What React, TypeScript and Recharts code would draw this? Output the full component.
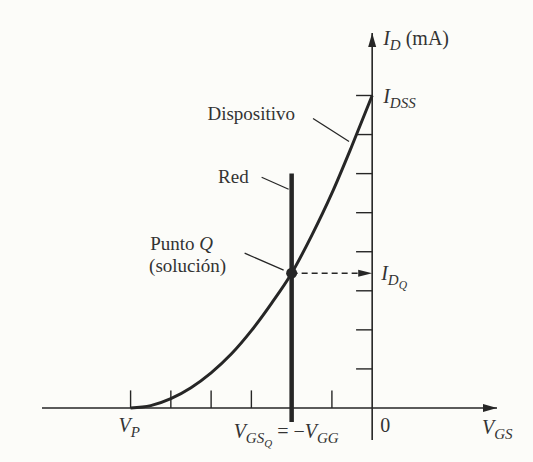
import {
  ComposedChart,
  Line,
  XAxis,
  YAxis,
  ReferenceLine,
  ReferenceDot,
} from "recharts";

// transfer curve of the JFET (V_GS in volts, I_D in mA)
const vgs = [-6, -5.5, -5, -4.5, -4, -3.5, -3, -2.5, -2, -1.5, -1, -0.5, 0];
const idMa = [0, 0.06, 0.24, 0.52, 0.9, 1.38, 1.98, 2.68, 3.45, 4.42, 5.5, 6.72, 8];

// gate bias line (V_GS = -V_GG) and operating point
const biasV = -2;
const biasSpan = [-0.36, 6];
const qPoint = { v: -2, i: 3.45 };

const xTicks = [-6, -5, -4, -3, -2, -1];
const yTicks = [1, 2, 3, 4, 5, 6, 7, 8];

const xDomain = [-8.2, 3.1];
const yDomain = [-0.82, 9.6];

const data = vgs.map((v, k) => ({ vgs: v, id: idMa[k] }));

const INK = "#262626";
const TXT = "#333333";
const FONT = "'Liberation Serif', 'DejaVu Serif', serif";

const tickLenX = 0.45;
const tickLenY = 0.4;

type Pt = { cx?: number; cy?: number };

// italic symbol with a subscript, e.g. V_GS
function SymSub({ x, y, main, sub, subsub, size = 20 }: any) {
  return (
    <text x={x} y={y} fill={TXT} fontFamily={FONT} fontSize={size} fontStyle="italic">
      <tspan>{main}</tspan>
      <tspan fontSize={size * 0.75} dy={5}>{sub}</tspan>
      {subsub ? (
        <tspan fontSize={size * 0.58} dy={4}>{subsub}</tspan>
      ) : null}
    </text>
  );
}

export default function App() {
  return (
    <div style={{ position: "fixed", left: 0, top: 0, width: 533, height: 462, background: "#fcfcf9" }}>
      <ComposedChart
        width={533}
        height={462}
        data={data}
        margin={{ top: 33, right: 36, bottom: 22, left: 42 }}
      >
        <XAxis dataKey="vgs" type="number" domain={xDomain} allowDataOverflow hide />
        <YAxis type="number" domain={yDomain} allowDataOverflow hide />

        {/* axes */}
        <ReferenceLine y={0} stroke={INK} strokeWidth={1.6} />
        <ReferenceLine x={0} stroke={INK} strokeWidth={1.6} />
        <ReferenceDot
          x={xDomain[1]}
          y={0}
          ifOverflow="visible"
          shape={({ cx = 0, cy = 0 }: Pt) => (
            <path d={`M${cx},${cy} L${cx - 14},${cy - 4} L${cx - 14},${cy + 4} Z`} fill={INK} />
          )}
        />
        <ReferenceDot
          x={0}
          y={yDomain[1]}
          ifOverflow="visible"
          shape={({ cx = 0, cy = 0 }: Pt) => (
            <path d={`M${cx},${cy} L${cx - 4},${cy + 14} L${cx + 4},${cy + 14} Z`} fill={INK} />
          )}
        />

        {/* tick marks */}
        {xTicks.map((t) => (
          <ReferenceLine
            key={`xt${t}`}
            segment={[{ x: t, y: 0 }, { x: t, y: tickLenX }]}
            stroke={INK}
            strokeWidth={1.4}
          />
        ))}
        {yTicks.map((t) => (
          <ReferenceLine
            key={`yt${t}`}
            segment={[{ x: -tickLenY, y: t }, { x: 0, y: t }]}
            stroke={INK}
            strokeWidth={1.4}
          />
        ))}

        {/* device curve */}
        <Line
          dataKey="id"
          type="monotone"
          stroke={INK}
          strokeWidth={3}
          dot={false}
          isAnimationActive={false}
        />

        {/* network line */}
        <ReferenceLine
          segment={[{ x: biasV, y: biasSpan[0] }, { x: biasV, y: biasSpan[1] }]}
          stroke={INK}
          strokeWidth={4.5}
        />

        {/* I_DQ projection */}
        <ReferenceLine
          segment={[{ x: qPoint.v, y: qPoint.i }, { x: -0.3, y: qPoint.i }]}
          stroke={INK}
          strokeWidth={1.4}
          strokeDasharray="6 4"
        />
        <ReferenceDot
          x={0}
          y={qPoint.i}
          shape={({ cx = 0, cy = 0 }: Pt) => (
            <path d={`M${cx},${cy} L${cx - 14},${cy - 3.5} L${cx - 14},${cy + 3.5} Z`} fill={INK} />
          )}
        />
        <ReferenceDot x={qPoint.v} y={qPoint.i} r={5.5} fill={INK} stroke="none" />

        {/* annotations */}
        <ReferenceDot
          x={-0.5}
          y={6.72}
          shape={({ cx = 0, cy = 0 }: Pt) => (
            <g>
              <line x1={cx - 39} y1={cy - 27} x2={cx - 3} y2={cy - 4} stroke={INK} strokeWidth={1.3} />
              <text x={cx - 57} y={cy - 25} textAnchor="end" fill={TXT} fontFamily={FONT} fontSize={19}>
                Dispositivo
              </text>
            </g>
          )}
        />
        <ReferenceDot
          x={biasV}
          y={5.6}
          shape={({ cx = 0, cy = 0 }: Pt) => (
            <g>
              <line x1={cx - 30} y1={cy - 12} x2={cx - 3} y2={cy} stroke={INK} strokeWidth={1.3} />
              <text x={cx - 43} y={cy - 6} textAnchor="end" fill={TXT} fontFamily={FONT} fontSize={19}>
                Red
              </text>
            </g>
          )}
        />
        <ReferenceDot
          x={qPoint.v}
          y={qPoint.i}
          shape={({ cx = 0, cy = 0 }: Pt) => (
            <g fill={TXT} fontFamily={FONT} fontSize={19}>
              <line x1={cx - 47} y1={cy - 20} x2={cx - 8} y2={cy - 3} stroke={INK} strokeWidth={1.3} />
              <text x={cx - 110} y={cy - 23} textAnchor="middle">
                Punto <tspan fontStyle="italic">Q</tspan>
              </text>
              <text x={cx - 104} y={cy - 1} textAnchor="middle">
                (solución)
              </text>
            </g>
          )}
        />

        {/* axis labels */}
        <ReferenceDot
          x={0}
          y={yDomain[1]}
          ifOverflow="visible"
          shape={({ cx = 0, cy = 0 }: Pt) => (
            <text x={cx + 11} y={cy + 12} fill={TXT} fontFamily={FONT} fontSize={20}>
              <tspan fontStyle="italic">I</tspan>
              <tspan fontStyle="italic" fontSize={15} dy={5}>D</tspan>
              <tspan dy={-5}> (mA)</tspan>
            </text>
          )}
        />
        <ReferenceDot
          x={0}
          y={8}
          shape={({ cx = 0, cy = 0 }: Pt) => <SymSub x={cx + 11} y={cy + 8} main="I" sub="DSS" />}
        />
        <ReferenceDot
          x={0}
          y={qPoint.i}
          shape={({ cx = 0, cy = 0 }: Pt) => <SymSub x={cx + 9} y={cy + 7} main="I" sub="D" subsub="Q" />}
        />
        <ReferenceDot
          x={vgs[0]}
          y={0}
          shape={({ cx = 0, cy = 0 }: Pt) => <SymSub x={cx - 12} y={cy + 24} main="V" sub="P" />}
        />
        <ReferenceDot
          x={biasV}
          y={0}
          shape={({ cx = 0, cy = 0 }: Pt) => (
            <text x={cx - 58} y={cy + 30} fill={TXT} fontFamily={FONT} fontSize={20}>
              <tspan fontStyle="italic">V</tspan>
              <tspan fontStyle="italic" fontSize={15} dy={5}>GS</tspan>
              <tspan fontStyle="italic" fontSize={11} dy={4}>Q</tspan>
              <tspan dy={-9}> = −</tspan>
              <tspan fontStyle="italic">V</tspan>
              <tspan fontStyle="italic" fontSize={15} dy={5}>GG</tspan>
            </text>
          )}
        />
        <ReferenceDot
          x={0}
          y={0}
          shape={({ cx = 0, cy = 0 }: Pt) => (
            <text x={cx + 8} y={cy + 24} fill={TXT} fontFamily={FONT} fontSize={20}>
              0
            </text>
          )}
        />
        <ReferenceDot
          x={xDomain[1]}
          y={0}
          ifOverflow="visible"
          shape={({ cx = 0, cy = 0 }: Pt) => <SymSub x={cx - 15} y={cy + 26} main="V" sub="GS" />}
        />
      </ComposedChart>
    </div>
  );
}
